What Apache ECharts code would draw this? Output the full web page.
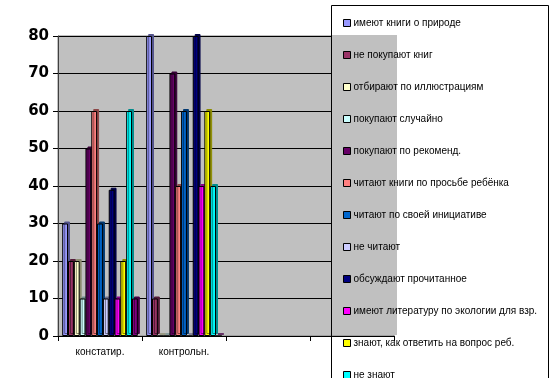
<!DOCTYPE html>
<html>
<head>
<meta charset="utf-8">
<script src="https://cdn.jsdelivr.net/npm/echarts@6/dist/echarts.min.js"></script>
<style>
  html, body { margin: 0; padding: 0; background: #fff; }
  #chart { width: 556px; height: 378px; }
</style>
</head>
<body>
<div id="chart"></div>
<script>
var categories = ['констатир.', 'контрольн.', '', ''];

var seriesNames = [
  'имеют книги о природе',
  'не покупают книг',
  'отбирают по иллюстрациям',
  'покупают случайно',
  'покупают по рекоменд.',
  'читают книги по просьбе ребёнка',
  'читают по своей инициативе',
  'не читают',
  'обсуждают прочитанное',
  'имеют литературу по экологии для взр.',
  'знают, как ответить на вопрос реб.',
  'не знают',
  '13'
];

var colors = ['#9999FF', '#993366', '#FFFFCC', '#CCFFFF', '#660066', '#FF8080',
  '#0066CC', '#CCCCFF', '#000080', '#FF00FF', '#FFFF00', '#00FFFF', '#800080'];

// values per series: [констатир., контрольн.]
var valuesKonst = [30, 20, 20, 10, 50, 60, 30, 10, 39, 10, 20, 60, 10];
var valuesKontr = [80, 10, 0, 0, 70, 40, 60, 0, 80, 40, 60, 40, 0];

var yTicks = { min: 0, max: 80, interval: 10 };

// darker shade for the fake 3d side of each bar
function darker(hex) {
  var n = parseInt(hex.slice(1), 16);
  var r = Math.round(((n >> 16) & 255) * 0.55);
  var g = Math.round(((n >> 8) & 255) * 0.55);
  var b = Math.round((n & 255) * 0.55);
  return 'rgb(' + r + ',' + g + ',' + b + ')';
}

var chart = echarts.init(document.getElementById('chart'), null, { renderer: 'canvas' });

var series = seriesNames.map(function (name, i) {
  return {
    name: name,
    type: 'bar',
    barGap: '0%',
    barCategoryGap: '10%',
    data: [valuesKonst[i], valuesKontr[i], null, null],
    itemStyle: {
      color: colors[i],
      borderColor: '#000',
      borderWidth: 1,
      shadowColor: darker(colors[i]),
      shadowBlur: 0,
      shadowOffsetX: 2,
      shadowOffsetY: -2
    }
  };
});

var option = {
  animation: false,
  backgroundColor: '#ffffff',
  color: colors,
  grid: {
    left: 58,
    right: 162,
    top: 36,
    bottom: 42,
    show: true,
    backgroundColor: '#C0C0C0',
    borderColor: '#808080',
    borderWidth: 1
  },
  legend: {
    orient: 'vertical',
    left: 343,
    top: 17,
    height: 440,
    padding: 0,
    itemWidth: 7,
    itemHeight: 7,
    itemGap: 20,
    icon: 'rect',
    data: seriesNames.slice(0, 12),
    itemStyle: { borderColor: '#000', borderWidth: 1, shadowBlur: 0, shadowOffsetX: 0, shadowOffsetY: 0, shadowColor: 'transparent' },
    textStyle: {
      fontFamily: 'Liberation Sans, Arial, sans-serif',
      fontSize: 10,
      lineHeight: 12,
      color: '#000',
      padding: [0, 0, 0, -2]
    }
  },
  xAxis: {
    type: 'category',
    data: categories,
    axisLine: { lineStyle: { color: '#000', width: 1 } },
    axisTick: { show: true, length: 5, lineStyle: { color: '#000' } },
    axisLabel: {
      margin: 11,
      fontFamily: 'Liberation Sans, Arial, sans-serif',
      fontSize: 10,
      color: '#000'
    }
  },
  yAxis: {
    type: 'value',
    min: yTicks.min,
    max: yTicks.max,
    interval: yTicks.interval,
    axisLine: { show: true, lineStyle: { color: '#404040', width: 1 } },
    axisTick: { show: true, length: 5, lineStyle: { color: '#000' } },
    splitLine: { lineStyle: { color: '#000', width: 1 } },
    axisLabel: {
      margin: 9,
      fontFamily: 'DejaVu Sans, Verdana, sans-serif',
      fontWeight: 'bold',
      fontSize: 15,
      color: '#000'
    }
  },
  graphic: [
    {
      type: 'rect',
      z: 3,
      shape: { x: 331, y: 35, width: 66, height: 300 },
      style: { fill: '#C0C0C0' }
    },
    {
      type: 'rect',
      z: 10,
      shape: { x: 331.5, y: 5.5, width: 217, height: 420 },
      style: { fill: 'none', stroke: '#000', lineWidth: 1 }
    }
  ],
  series: series
};

chart.setOption(option);
</script>
</body>
</html>
